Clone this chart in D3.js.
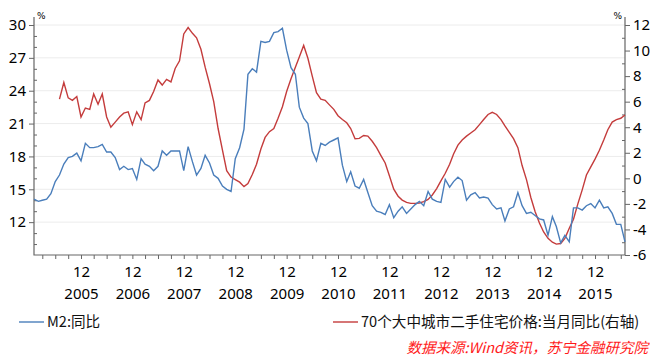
<!DOCTYPE html>
<html>
<head>
<meta charset="utf-8">
<script src="https://cdn.jsdelivr.net/npm/d3@7"></script>
<style>
  body { margin: 0; background: #fff; }
  svg { display: block; }
  .axis text { font-family: "Noto Sans", sans-serif; font-size: 15px; fill: #000; }
  .axis line { stroke: #666; }
  .legend text { font-family: "Noto Sans CJK SC", sans-serif; font-size: 14.6px; fill: #111; }
</style>
</head>
<body>
<script>
// months Jan 2005 .. Jul 2016
var firstMonth = new Date(2005, 0, 1),
    lastMonth = new Date(2016, 6, 1);

// M2 yoy, %
var m2 = [
  14.1, 13.9, 14.0, 14.1, 14.6, 15.7, 16.3, 17.3, 17.9, 18.0, 18.3, 17.6,
  19.2, 18.8, 18.8, 18.9, 19.1, 18.4, 18.4, 17.9, 16.8, 17.1, 16.8, 16.9,
  15.9, 17.8, 17.3, 17.1, 16.7, 17.1, 18.5, 18.1, 18.5, 18.5, 18.5, 16.7,
  18.9, 17.5, 16.3, 16.9, 18.1, 17.4, 16.3, 16.0, 15.3, 15.0, 14.8, 17.8,
  18.8, 20.5, 25.5, 26.0, 25.7, 28.5, 28.4, 28.5, 29.3, 29.4, 29.7, 27.7,
  26.1, 25.5, 22.5, 21.5, 21.0, 18.5, 17.6, 19.2, 19.0, 19.3, 19.5, 19.7,
  17.2, 15.7, 16.6, 15.3, 15.1, 15.9, 14.7, 13.5, 13.0, 12.9, 12.7, 13.6,
  12.4, 13.0, 13.4, 12.8, 13.2, 13.6, 13.9, 13.5, 14.8, 14.1, 13.9, 13.8,
  15.9, 15.2, 15.7, 16.1, 15.8, 14.0, 14.5, 14.7, 14.2, 14.3, 14.2, 13.6,
  13.2, 13.3, 12.1, 13.2, 13.4, 14.7, 13.5, 12.8, 12.9, 12.6, 12.3, 12.2,
  10.8, 12.5, 11.6, 10.1, 10.8, 10.2, 13.3, 13.3, 13.1, 13.5, 13.7, 13.3,
  14.0, 13.3, 13.4, 12.8, 11.8, 11.8, 10.2
];

// 70-city second-hand home price yoy, % (right axis), starts Jul 2005
var price = [
  null, null, null, null, null, null, 6.2, 7.5, 6.3, 6.1, 6.4, 4.8,
  5.5, 5.4, 6.6, 5.8, 6.6, 4.8, 4.0, 4.4, 4.8, 5.1, 5.2, 4.2,
  5.2, 4.6, 5.9, 6.1, 6.8, 7.7, 7.3, 7.75, 7.55, 8.6, 9.2, 11.3,
  11.8, 11.35, 11.0, 10.1, 8.7, 7.4, 6.0, 3.9, 2.2, 0.6, 0.1, -0.1,
  -0.3, -0.65, -0.4, 0.3, 1.1, 2.3, 3.2, 3.65, 3.9, 4.7, 5.6, 6.8,
  7.8, 8.7, 9.5, 10.4, 9.4, 8.0, 6.7, 6.2, 6.1, 5.75, 5.4, 4.9,
  4.6, 4.35, 3.9, 3.1, 3.13, 3.35, 3.3, 2.9, 2.4, 1.8, 1.2, 0.2,
  -0.85, -1.4, -1.7, -1.88, -1.96, -1.96, -1.93, -1.83, -1.65, -1.3, -0.8, -0.2,
  0.4, 1.1, 1.9, 2.6, 3.0, 3.3, 3.55, 3.8, 4.2, 4.6, 5.0, 5.17,
  5.0, 4.6, 4.1, 3.6, 3.1, 2.4, 1.0, -0.1, -1.5, -2.6, -3.5, -4.2,
  -4.7, -5.0, -5.15, -5.1, -4.7, -3.9, -3.2, -2.0, -0.9, 0.26, 0.9, 1.5,
  2.2, 3.0, 3.8, 4.4, 4.6, 4.7, 4.96
];

var leftTicks = [12, 15, 18, 21, 24, 27, 30],
    leftMinor = [10, 11, 13, 14, 16, 17, 19, 20, 22, 23, 25, 26, 28, 29],
    rightTicks = [-6, -4, -2, 0, 2, 4, 6, 8, 10, 12],
    rightMinor = [-5, -3, -1, 1, 3, 5, 7, 9, 11];

var legendNames = ["M2:同比", "70个大中城市二手住宅价格:当月同比(右轴)"],
    colors = ["#4a7ebb", "#c43c3c"],
    sourceText = "数据来源:Wind资讯，苏宁金融研究院";

var width = 659, height = 362,
    margin = {top: 25, right: 34, bottom: 107, left: 34};

var months = d3.timeMonth.range(firstMonth, d3.timeMonth.offset(lastMonth, 1));

var x = d3.scaleTime()
    .domain([firstMonth, lastMonth])
    .range([margin.left, width - margin.right]);

var yL = d3.scaleLinear()
    .domain([9, 30])
    .range([height - margin.bottom, margin.top]);

var yR = d3.scaleLinear()
    .domain([-6, 12])
    .range([height - margin.bottom, margin.top]);

var svg = d3.select("body").append("svg")
    .attr("width", width)
    .attr("height", height);

var x0 = x.range()[0], x1 = x.range()[1], yb = yL.range()[0];

// grid
svg.append("g")
    .selectAll("line")
    .data(leftTicks)
  .enter().append("line")
    .attr("x1", x0).attr("x2", x1)
    .attr("y1", function(d) { return yL(d); })
    .attr("y2", function(d) { return yL(d); })
    .attr("stroke", "#ececec")
    .attr("stroke-width", 1);

// x axis
var xTicks = months.filter(function(d) { return d.getMonth() % 3 === 2; });

var gx = svg.append("g")
    .attr("class", "axis")
    .attr("transform", "translate(0," + yb + ")")
    .call(d3.axisBottom(x)
        .tickValues(xTicks)
        .tickSize(4)
        .tickSizeOuter(0)
        .tickFormat(function(d) { return d.getMonth() === 11 ? "12" : ""; }));
gx.select(".domain").remove();
gx.selectAll(".tick text").attr("y", 22).attr("dy", null);
gx.selectAll(".tick")
    .filter(function(d) { return d.getMonth() === 11; })
  .append("text")
    .attr("y", 44)
    .attr("text-anchor", "middle")
    .text(function(d) { return d.getFullYear(); });

// left axis
var gl = svg.append("g")
    .attr("class", "axis")
    .attr("transform", "translate(" + x0 + ",0)")
    .call(d3.axisLeft(yL).tickValues(leftTicks).tickSize(5).tickPadding(3)
        .tickFormat(function(d) { return String(d); }));
gl.select(".domain").remove();
var glm = svg.append("g")
    .attr("class", "axis")
    .attr("transform", "translate(" + x0 + ",0)")
    .call(d3.axisLeft(yL).tickValues(leftMinor).tickSize(-3).tickFormat(""));
glm.select(".domain").remove();

// right axis
var gr = svg.append("g")
    .attr("class", "axis")
    .attr("transform", "translate(" + x1 + ",0)")
    .call(d3.axisRight(yR).tickValues(rightTicks).tickSize(5).tickPadding(3)
        .tickFormat(function(d) { return String(d); }));
gr.select(".domain").remove();
var grm = svg.append("g")
    .attr("class", "axis")
    .attr("transform", "translate(" + x1 + ",0)")
    .call(d3.axisRight(yR).tickValues(rightMinor).tickSize(-3).tickFormat(""));
grm.select(".domain").remove();

// spines
svg.append("path")
    .attr("d", "M" + x0 + "," + (margin.top - 8) + "V" + yb + "H" + x1 + "V" + (margin.top - 8))
    .attr("fill", "none")
    .attr("stroke", "#666")
    .attr("stroke-width", 1.2);

svg.append("text")
    .attr("x", x0 + 3).attr("y", margin.top - 6)
    .style("font-family", "DejaVu Sans").style("font-size", "9px")
    .text("%");
svg.append("text")
    .attr("x", x1 - 3).attr("y", margin.top - 6)
    .attr("text-anchor", "end")
    .style("font-family", "DejaVu Sans").style("font-size", "9px")
    .text("%");

// lines
var lineL = d3.line()
    .x(function(d, i) { return x(months[i]); })
    .y(function(d) { return yL(d); });

var lineR = d3.line()
    .defined(function(d) { return d !== null; })
    .x(function(d, i) { return x(months[i]); })
    .y(function(d) { return yR(d); });

svg.append("path")
    .datum(price)
    .attr("d", lineR)
    .attr("fill", "none")
    .attr("stroke", colors[1])
    .attr("stroke-width", 1.4);

svg.append("path")
    .datum(m2)
    .attr("d", lineL)
    .attr("fill", "none")
    .attr("stroke", colors[0])
    .attr("stroke-width", 1.4);

// legend
var legend = svg.append("g").attr("class", "legend");
var legendX = [19, 333], legendY = 322;
legendNames.forEach(function(name, i) {
    legend.append("line")
        .attr("x1", legendX[i]).attr("x2", legendX[i] + 25)
        .attr("y1", legendY).attr("y2", legendY)
        .attr("stroke", colors[i])
        .attr("stroke-width", 1.4);
    legend.append("text")
        .attr("x", legendX[i] + 28)
        .attr("y", legendY + 5)
        .text(name);
});

svg.append("text")
    .attr("x", 648).attr("y", 353)
    .attr("text-anchor", "end")
    .style("font-family", "Noto Sans CJK SC, sans-serif")
    .style("font-size", "14.5px")
    .style("font-style", "italic")
    .attr("fill", "#ff1a1a")
    .text(sourceText);
</script>
</body>
</html>
